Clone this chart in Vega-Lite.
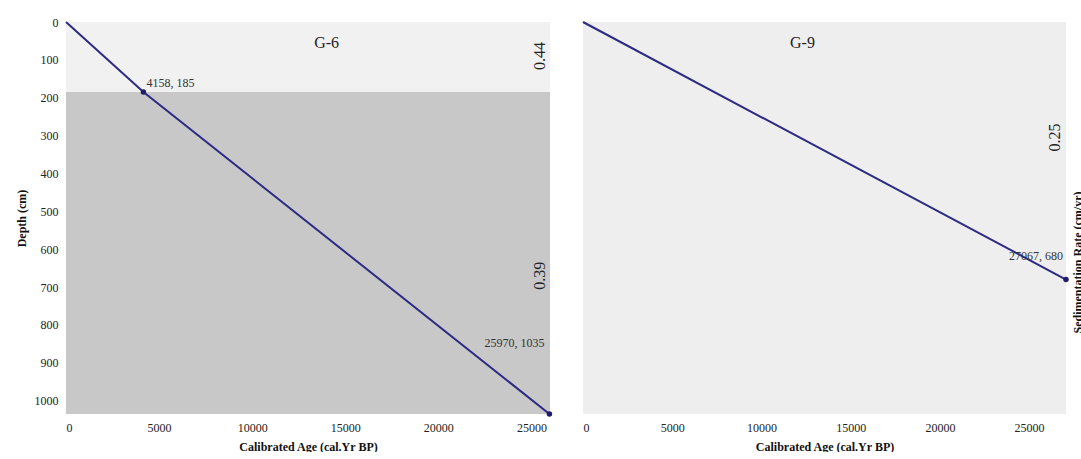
{
  "$schema": "https://vega.github.io/schema/vega-lite/v6.json",
  "background": "white",
  "padding": {"left": 15, "top": 16, "right": 0, "bottom": 0},
  "config": {
    "font": "Liberation Serif",
    "view": {"stroke": null},
    "axis": {
      "labelFont": "Liberation Serif",
      "titleFont": "Liberation Serif",
      "labelColor": "#222222",
      "titleColor": "#111111",
      "labelFontSize": 12,
      "titleFontSize": 12,
      "titleFontWeight": "bold",
      "ticks": false,
      "domain": false,
      "grid": false,
      "labelOverlap": false
    },
    "concat": {"spacing": 25}
  },
  "datasets": {
    "g6line": [
      {"age": 0, "depth": 0, "label": ""},
      {"age": 4158, "depth": 185, "label": "4158, 185"},
      {"age": 25970, "depth": 1035, "label": "25970, 1035"}
    ],
    "g6zones": [
      {"zone": "upper", "top": 0, "bottom": 185, "rate": "0.44", "labelDepth": 90},
      {"zone": "lower", "top": 185, "bottom": 1035, "rate": "0.39", "labelDepth": 670}
    ],
    "g6name": [{"name": "G-6", "age": 14000, "depth": 55}],
    "g9line": [
      {"age": 0, "depth": 0, "label": ""},
      {"age": 27067, "depth": 680, "label": "27067, 680"}
    ],
    "g9zones": [
      {"zone": "upper", "top": 0, "bottom": 1035, "rate": "0.25", "labelDepth": 305}
    ],
    "g9name": [{"name": "G-9", "age": 12300, "depth": 55}]
  },
  "hconcat": [
    {
      "width": 484,
      "height": 392,
      "encoding": {
        "y": {"field": "depth", "type": "quantitative", "title": "Depth (cm)",
          "scale": {"domain": [0, 1035], "reverse": true, "nice": false, "zero": false},
          "axis": {"title": "Depth (cm)", "values": [0, 100, 200, 300, 400, 500, 600, 700, 800, 900, 1000], "tickCount": 11, "labelOverlap": false, "format": "d", "labelPadding": 8, "titlePadding": 6}},
        "x": {"field": "age", "type": "quantitative", "title": "Calibrated Age (cal.Yr BP)",
          "scale": {"domain": [0, 26000], "nice": false},
          "axis": {"title": "Calibrated Age (cal.Yr BP)", "values": [0, 5000, 10000, 15000, 20000, 25000], "labelOverlap": false, "format": "d", "labelPadding": 8, "titlePadding": 8}}
      },
      "layer": [
        {
          "data": {"name": "g6zones"},
          "mark": {"type": "rect"},
          "encoding": {
            "x": null,
            "y": {"field": "top", "type": "quantitative", "title": "Depth (cm)"},
            "y2": {"field": "bottom"},
            "fill": {"field": "zone", "type": "nominal", "scale": {"domain": ["upper", "lower"], "range": ["#f1f1f1", "#c8c8c8"]}, "legend": null}
          }
        },
        {
          "data": {"name": "g6line"},
          "mark": {"type": "line", "color": "#2c2a82", "strokeWidth": 2}
        },
        {
          "data": {"name": "g6line"},
          "transform": [{"filter": "datum.label != ''"}],
          "mark": {"type": "point", "filled": true, "color": "#1f1d6b", "size": 30, "opacity": 1}
        },
        {
          "data": {"name": "g6line"},
          "transform": [{"filter": "datum.label == '4158, 185'"}],
          "mark": {"type": "text", "align": "left", "baseline": "bottom", "dx": 3, "dy": -2, "fontSize": 12, "color": "#333333"},
          "encoding": {"text": {"field": "label"}}
        },
        {
          "data": {"name": "g6line"},
          "transform": [{"filter": "datum.label == '25970, 1035'"}],
          "mark": {"type": "text", "align": "right", "baseline": "middle", "dx": -5, "dy": -71, "fontSize": 12, "color": "#333333"},
          "encoding": {"text": {"field": "label"}}
        },
        {
          "data": {"name": "g6zones"},
          "mark": {"type": "text", "angle": 270, "align": "center", "baseline": "bottom", "dy": -2, "fontSize": 16, "color": "#222222"},
          "encoding": {
            "x": {"value": "width"},
            "y": {"field": "labelDepth", "type": "quantitative", "title": "Depth (cm)"},
            "text": {"field": "rate"}
          }
        },
        {
          "data": {"name": "g6name"},
          "mark": {"type": "text", "align": "center", "baseline": "middle", "fontSize": 16, "color": "#222222"},
          "encoding": {"text": {"field": "name"}}
        }
      ]
    },
    {
      "width": 483,
      "height": 392,
      "view": {"fill": "#eeeeee"},
      "encoding": {
        "y": {"field": "depth", "type": "quantitative", "title": "Sedimentation Rate (cm/yr)",
          "scale": {"domain": [0, 1035], "reverse": true, "nice": false, "zero": false},
          "axis": {"orient": "right", "labels": false, "title": "Sedimentation Rate (cm/yr)", "titleAngle": 270, "titleBaseline": "top", "titleAlign": "center", "titleY": 240, "titlePadding": 6}},
        "x": {"field": "age", "type": "quantitative", "title": "Calibrated Age (cal.Yr BP)",
          "scale": {"domain": [0, 27067], "nice": false},
          "axis": {"title": "Calibrated Age (cal.Yr BP)", "values": [0, 5000, 10000, 15000, 20000, 25000], "labelOverlap": false, "format": "d", "labelPadding": 8, "titlePadding": 8}}
      },
      "layer": [
        {
          "data": {"name": "g9line"},
          "mark": {"type": "line", "color": "#2c2a82", "strokeWidth": 2}
        },
        {
          "data": {"name": "g9line"},
          "transform": [{"filter": "datum.label != ''"}],
          "mark": {"type": "point", "filled": true, "color": "#1f1d6b", "size": 30, "opacity": 1}
        },
        {
          "data": {"name": "g9line"},
          "transform": [{"filter": "datum.label != ''"}],
          "mark": {"type": "text", "align": "right", "baseline": "middle", "dx": -3, "dy": -24, "fontSize": 12, "color": "#333333"},
          "encoding": {"text": {"field": "label"}}
        },
        {
          "data": {"name": "g9zones"},
          "mark": {"type": "text", "angle": 270, "align": "center", "baseline": "bottom", "dy": -3, "fontSize": 16, "color": "#222222"},
          "encoding": {
            "x": {"value": "width"},
            "y": {"field": "labelDepth", "type": "quantitative", "title": "Sedimentation Rate (cm/yr)"},
            "text": {"field": "rate"}
          }
        },
        {
          "data": {"name": "g9name"},
          "mark": {"type": "text", "align": "center", "baseline": "middle", "fontSize": 16, "color": "#222222"},
          "encoding": {"text": {"field": "name"}}
        }
      ]
    }
  ]
}
